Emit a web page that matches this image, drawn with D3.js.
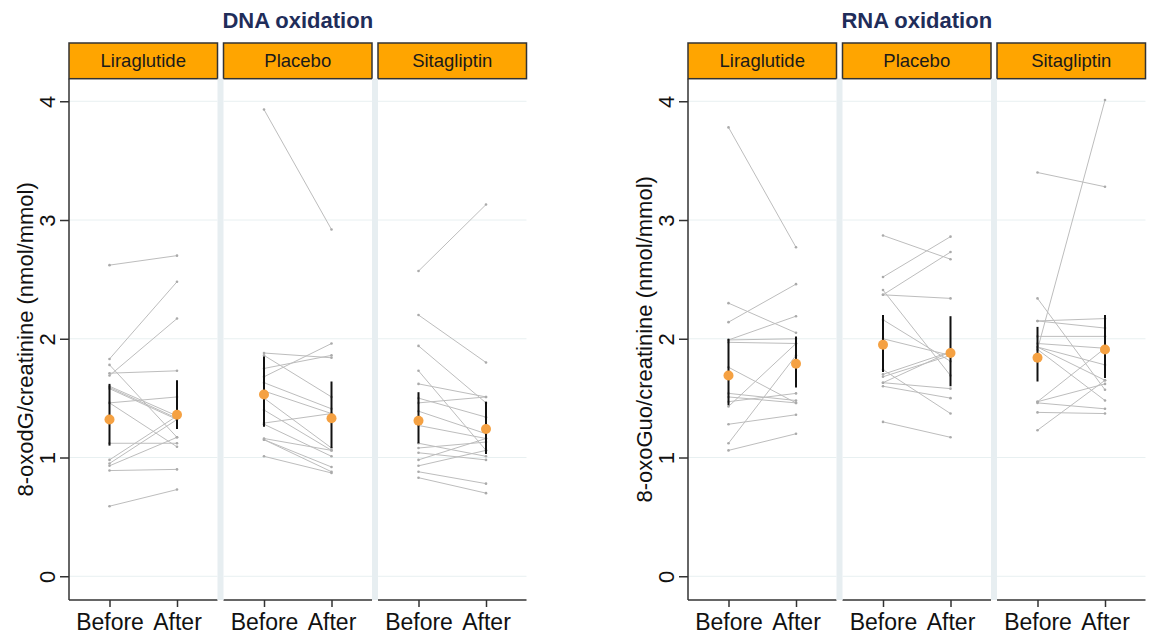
<!DOCTYPE html>
<html lang="en">
<head>
<meta charset="UTF-8">
<title>DNA and RNA oxidation</title>
<script src="https://d3js.org/d3.v7.min.js"></script>
<style>
  body { margin: 0; background: #fff; }
  text { font-family: 'Liberation Sans', Arial, sans-serif; }
</style>
</head>
<body>
<div id="chart"></div>
<script>
// groups and time points
var groups = ["Liraglutide", "Placebo", "Sitagliptin"];
var times = ["Before", "After"];
var yTicks = [0, 1, 2, 3, 4];

// individual [before, after] pairs
var dnaLiraglutide = [[2.62,2.70],[1.83,2.48],[1.69,2.17],[1.78,1.17],[1.71,1.73],[1.60,1.35],[1.59,1.33],[1.58,1.32],
  [1.46,1.51],[1.46,1.09],[1.12,1.12],[0.98,1.35],[0.95,1.32],[0.93,1.17],[0.89,0.90],[0.59,0.73]];
var dnaPlacebo = [[3.93,2.92],[1.88,1.84],[1.86,1.51],[1.75,1.86],[1.68,1.96],[1.63,1.41],[1.56,1.37],[1.50,1.08],
  [1.40,1.06],[1.29,1.37],[1.28,1.01],[1.16,1.06],[1.15,0.92],[1.15,0.88],[1.01,0.87]];
var dnaSitagliptin = [[2.57,3.13],[2.20,1.80],[1.94,1.46],[1.73,1.06],[1.62,1.51],[1.50,1.34],[1.46,1.51],[1.39,1.20],
  [1.27,1.16],[1.12,1.01],[1.08,1.13],[1.04,0.98],[0.98,1.16],[0.93,1.06],[0.88,0.78],[0.83,0.70]];

var rnaLiraglutide = [[3.78,2.77],[2.30,2.05],[2.14,2.46],[1.99,2.19],[1.99,2.00],[1.97,1.96],[1.76,1.46],[1.54,1.48],
  [1.51,1.46],[1.47,1.54],[1.43,1.96],[1.28,1.36],[1.12,1.86],[1.06,1.20]];
var rnaPlacebo = [[2.87,2.67],[2.52,2.86],[2.41,1.69],[2.37,2.73],[2.37,2.34],[2.16,1.81],[2.00,1.86],[1.74,1.37],
  [1.70,1.89],[1.68,1.86],[1.63,1.89],[1.63,1.58],[1.60,1.50],[1.30,1.17]];
var rnaSitagliptin = [[1.91,4.01],[3.40,3.28],[2.34,1.57],[2.15,2.17],[2.15,2.09],[2.02,2.02],[1.96,1.92],[1.93,1.78],
  [1.91,1.48],[1.93,1.65],[1.47,1.62],[1.46,1.41],[1.38,1.37],[1.47,1.92],[1.23,1.65]];

// group means and interval ends, [before, after]
var dnaMean = [[1.32,1.36],[1.53,1.33],[1.31,1.24]];
var dnaLow  = [[1.10,1.24],[1.26,1.08],[1.12,1.03]];
var dnaHigh = [[1.62,1.65],[1.85,1.64],[1.55,1.47]];
var rnaMean = [[1.69,1.79],[1.95,1.88],[1.84,1.91]];
var rnaLow  = [[1.44,1.59],[1.72,1.60],[1.64,1.67]];
var rnaHigh = [[2.00,2.02],[2.20,2.19],[2.10,2.20]];

var W = 1149, H = 635;
var svg = d3.select("#chart").append("svg")
  .attr("width", W).attr("height", H);

var stripTop = 43, stripBottom = 78.7, axisY = 600;
var panelW = 148.5, gap = 6;

var y = d3.scaleLinear().domain([-0.2, 4.19]).range([axisY, stripBottom]);
var x = d3.scalePoint().domain(times).range([0, panelW]).padding(0.6);

function drawFacet(left, title, ylab, pairs, mean, low, high) {
  var fullW = panelW * 3 + gap * 2;
  var g = svg.append("g").attr("transform", "translate(" + left + ",0)");

  g.append("text")
    .attr("x", fullW / 2).attr("y", 28)
    .attr("text-anchor", "middle")
    .attr("font-size", "22px").attr("font-weight", "bold")
    .attr("fill", "#1f2d5a")
    .text(title);

  groups.forEach(function(name, i) {
    var px = i * (panelW + gap);
    var p = g.append("g").attr("transform", "translate(" + px + ",0)");

    // separator column to the left of inner panels
    if (i > 0) {
      g.append("rect")
        .attr("x", px - gap).attr("y", stripBottom)
        .attr("width", gap).attr("height", axisY - stripBottom)
        .attr("fill", "#e7eef1");
    }

    p.selectAll(".grid").data(yTicks).enter().append("line")
      .attr("x1", 0).attr("x2", panelW)
      .attr("y1", function(d) { return y(d); })
      .attr("y2", function(d) { return y(d); })
      .attr("stroke", "#e8f0f1").attr("stroke-width", 1);

    // strip
    p.append("rect")
      .attr("x", 0).attr("y", stripTop)
      .attr("width", panelW).attr("height", stripBottom - stripTop)
      .attr("fill", "#FFA500").attr("stroke", "#333").attr("stroke-width", 1.5);
    p.append("text")
      .attr("x", panelW / 2).attr("y", (stripTop + stripBottom) / 2 + 6.5)
      .attr("text-anchor", "middle").attr("font-size", "18.5px")
      .attr("fill", "#1a1a1a")
      .text(name);

    // individual lines
    p.selectAll(".pair").data(pairs[i]).enter().append("line")
      .attr("x1", x("Before")).attr("x2", x("After"))
      .attr("y1", function(d) { return y(d[0]); })
      .attr("y2", function(d) { return y(d[1]); })
      .attr("stroke", "#bdbdbd").attr("stroke-width", 1);
    pairs[i].forEach(function(d) {
      times.forEach(function(t, k) {
        p.append("circle")
          .attr("cx", x(t)).attr("cy", y(d[k]))
          .attr("r", 1.3).attr("fill", "#aaaaaa");
      });
    });

    // error bars and means
    times.forEach(function(t, k) {
      p.append("line")
        .attr("x1", x(t)).attr("x2", x(t))
        .attr("y1", y(low[i][k])).attr("y2", y(high[i][k]))
        .attr("stroke", "#111").attr("stroke-width", 2);
      p.append("circle")
        .attr("cx", x(t)).attr("cy", y(mean[i][k]))
        .attr("r", 5).attr("fill", "#f5a142");
    });

    // x axis
    var xa = p.append("g").attr("transform", "translate(0," + axisY + ")")
      .call(d3.axisBottom(x).tickSize(7).tickPadding(7));
    xa.select(".domain").attr("stroke", "#333").attr("stroke-width", 1.5)
      .attr("d", "M0,0H" + panelW);
    xa.selectAll(".tick line").attr("stroke", "#333").attr("stroke-width", 1.5);
    xa.selectAll(".tick text").attr("font-size", "23px").attr("fill", "#111")
      .attr("font-family", "'Liberation Sans', Arial, sans-serif");
  });

  // y axis
  var ya = g.append("g")
    .call(d3.axisLeft(y).tickValues(yTicks).tickSize(9).tickFormat(d3.format("d")));
  ya.select(".domain").attr("stroke", "#333").attr("stroke-width", 1.5)
    .attr("d", "M0," + stripBottom + "V" + axisY);
  ya.selectAll(".tick line").attr("stroke", "#333").attr("stroke-width", 1.5);
  ya.selectAll(".tick text")
    .attr("font-size", "22px").attr("fill", "#111")
    .attr("font-family", "'Liberation Sans', Arial, sans-serif")
    .attr("x", null).attr("dy", null)
    .attr("text-anchor", "middle")
    .attr("transform", "translate(-14,0) rotate(-90)");

  g.append("text")
    .attr("transform", "translate(-36," + ((stripBottom + axisY) / 2) + ") rotate(-90)")
    .attr("text-anchor", "middle")
    .attr("font-size", "22px").attr("fill", "#111")
    .text(ylab);
}

drawFacet(69, "DNA oxidation", "8-oxodG/creatinine (nmol/mmol)",
  [dnaLiraglutide, dnaPlacebo, dnaSitagliptin], dnaMean, dnaLow, dnaHigh);
drawFacet(688, "RNA oxidation", "8-oxoGuo/creatinine (nmol/mmol)",
  [rnaLiraglutide, rnaPlacebo, rnaSitagliptin], rnaMean, rnaLow, rnaHigh);
</script>
</body>
</html>
